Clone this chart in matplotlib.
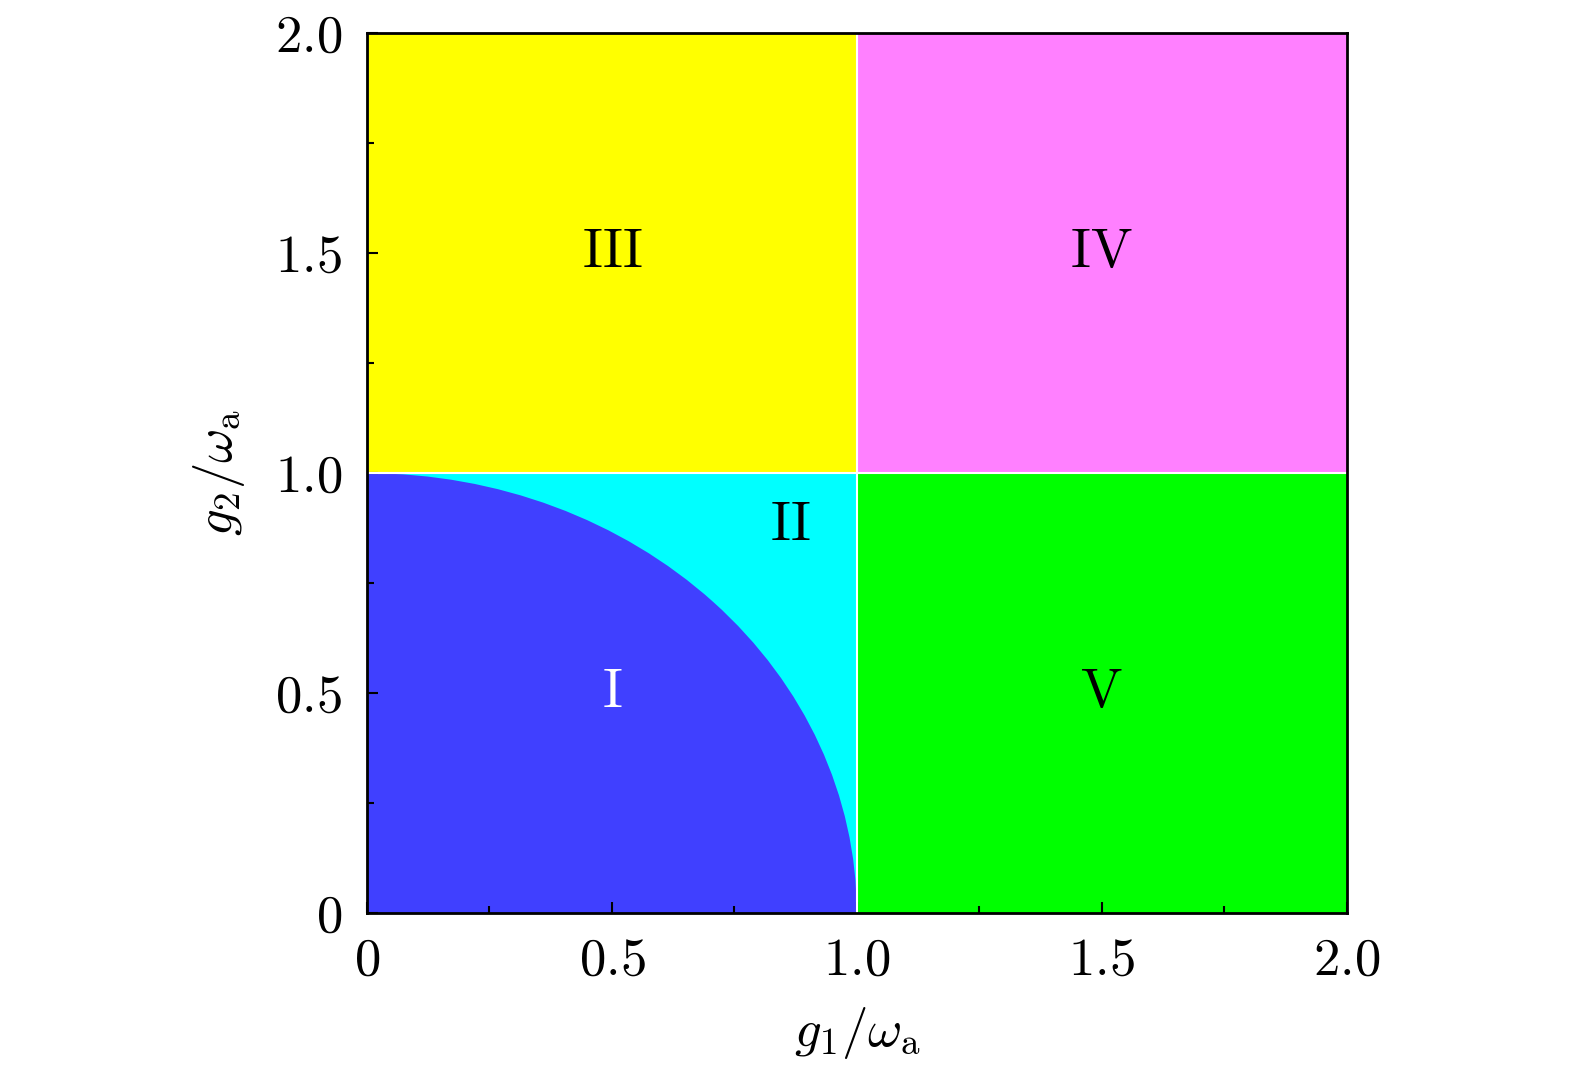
import numpy as np
import matplotlib
matplotlib.use("Agg")
import matplotlib.pyplot as plt
from matplotlib.patches import Wedge

plt.rcParams['mathtext.fontset'] = 'cm'
plt.rcParams['font.family'] = 'serif'
plt.rcParams['font.serif'] = ['cmr10', 'DejaVu Serif']
plt.rcParams['axes.formatter.use_mathtext'] = True

# Phase boundaries (in units of omega_a)
g1_crit = 1.0      # vertical boundary g1/omega_a
g2_crit = 1.0      # horizontal boundary g2/omega_a
radius_I = 1.0     # g1^2 + g2^2 = 1 boundary of phase I
g_max = 2.0

# Region colours
col_I = '#4040ff'
col_II = '#00ffff'
col_III = '#ffff00'
col_IV = '#ff80ff'
col_V = '#00ff00'

# Region labels and their positions
labels = ['I', 'II', 'III', 'IV', 'V']
label_x = [0.5, 0.865, 0.5, 1.5, 1.5]
label_y = [0.5, 0.88, 1.5, 1.5, 0.5]
label_col = ['white', 'black', 'black', 'black', 'black']

xticks = [0, 0.5, 1.0, 1.5, 2.0]
xticklabels = ['0', '0.5', '1.0', '1.5', '2.0']

fig = plt.figure(figsize=(15.75, 10.73), dpi=100)
ax = fig.add_axes([0.233, 0.149, 0.622, 0.820])

# rectangles
ax.fill_between([0, g1_crit], 0, g2_crit, color=col_II, lw=0)
ax.fill_between([0, g1_crit], g2_crit, g_max, color=col_III, lw=0)
ax.fill_between([g1_crit, g_max], g2_crit, g_max, color=col_IV, lw=0)
ax.fill_between([g1_crit, g_max], 0, g2_crit, color=col_V, lw=0)
ax.add_patch(Wedge((0, 0), radius_I, 0, 90, color=col_I, lw=0))

# white separators
ax.axvline(g1_crit, color='white', lw=1.5)
ax.axhline(g2_crit, color='white', lw=1.5)

for lab, x, y, c in zip(labels, label_x, label_y, label_col):
    ax.text(x, y, r'$\mathrm{%s}$' % lab, color=c, fontsize=40,
            ha='center', va='center')

ax.set_xlim(0, g_max)
ax.set_ylim(0, g_max)
ax.set_xticks(xticks)
ax.set_xticklabels(['$%s$' % t for t in xticklabels])
ax.set_yticks(xticks)
ax.set_yticklabels(['$%s$' % t for t in xticklabels])
ax.set_xticks(np.arange(0.25, 2.0, 0.5), minor=True)
ax.set_yticks(np.arange(0.25, 2.0, 0.5), minor=True)
ax.tick_params(which='both', direction='in', labelsize=38, width=1.5)
ax.tick_params(which='major', length=8, pad=18)
ax.tick_params(which='minor', length=5)
for s in ax.spines.values():
    s.set_linewidth(2)

ax.set_xlabel(r'$g_1/\omega_{\rm a}$', fontsize=38, labelpad=14)
ax.set_ylabel(r'$g_2/\omega_{\rm a}$', fontsize=38, labelpad=20)

fig.savefig('out.png', dpi=100)
